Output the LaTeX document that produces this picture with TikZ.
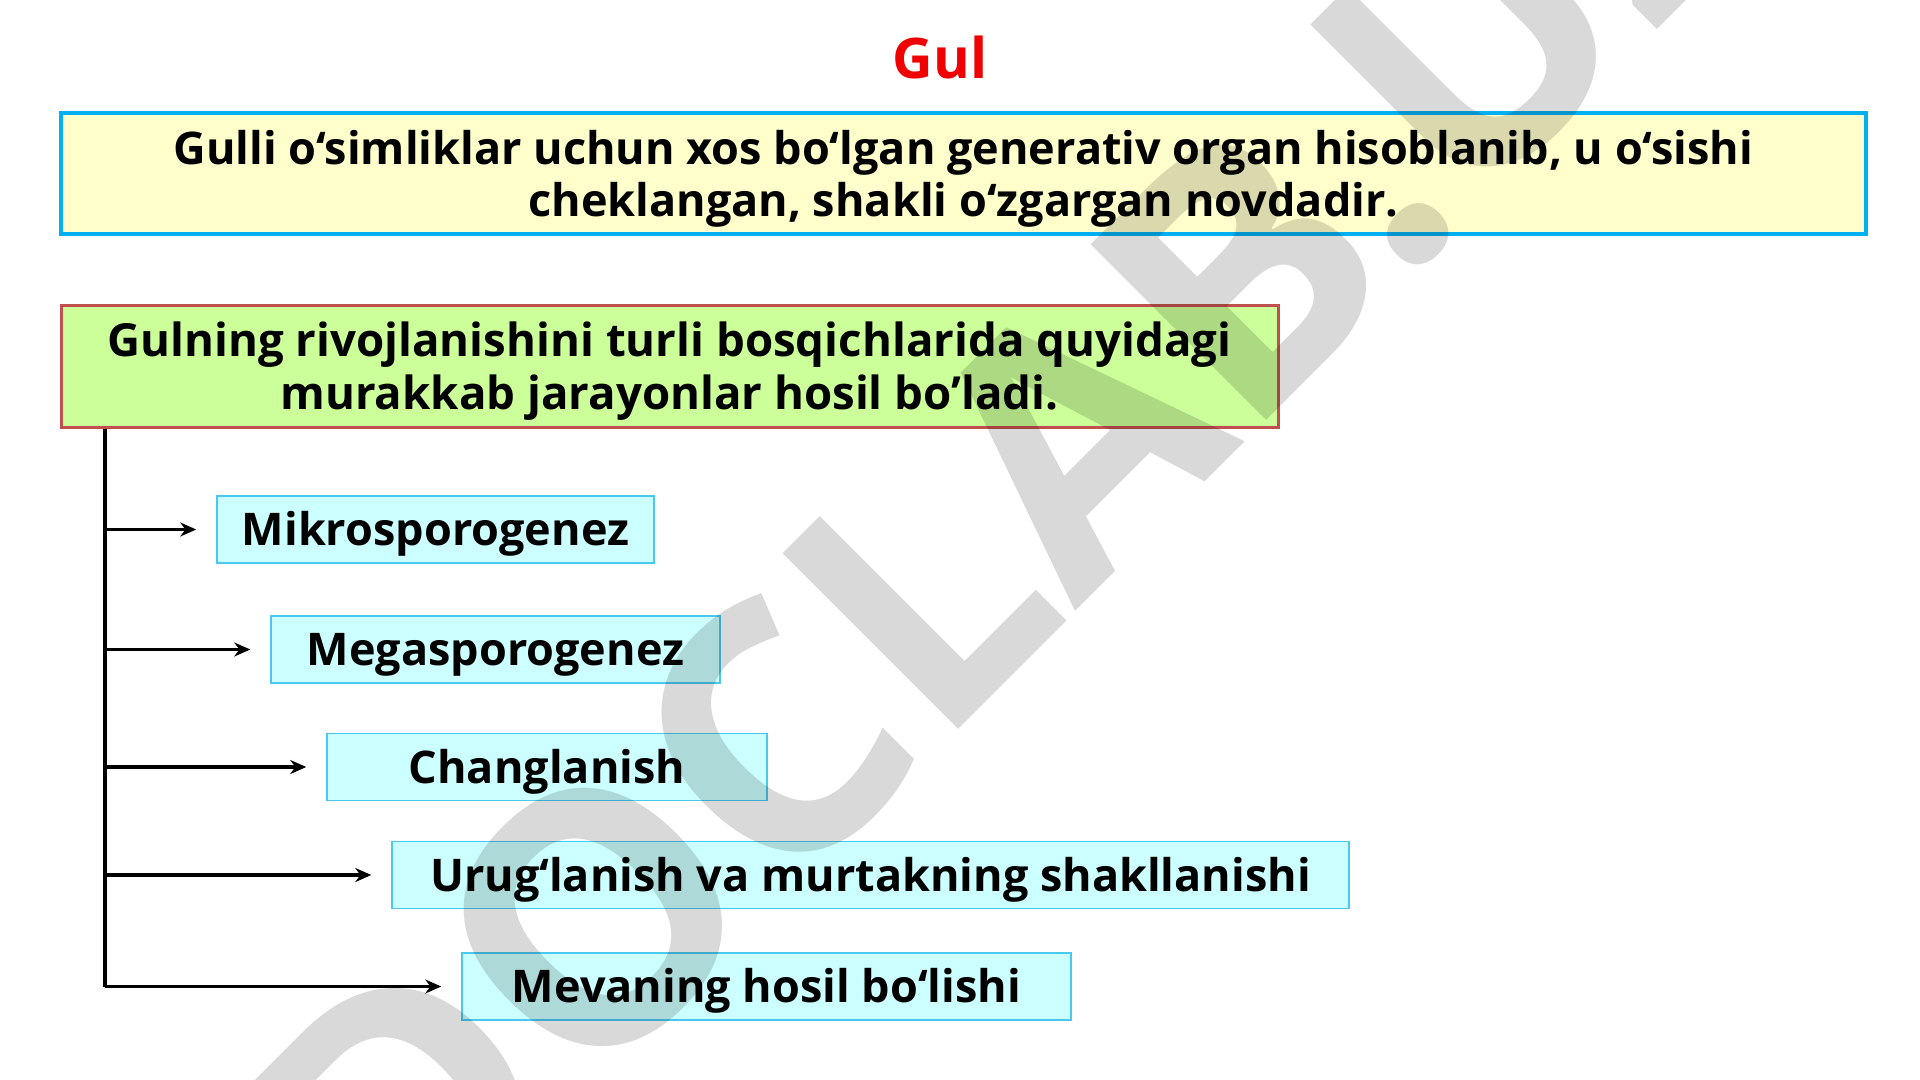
\documentclass[tikz,border=0pt]{standalone}
\usepackage{fontspec}
\IfFontExistsTF{Noto Sans Bold}
  {\setmainfont{Noto Sans}[BoldFont={Noto Sans Bold}]}
  {\setmainfont{Open Sans}[BoldFont={Open Sans Bold}]}
\usetikzlibrary{arrows.meta,calc}
\definecolor{cTitle}{HTML}{F00000}
\definecolor{cTopB}{HTML}{00B0F0}
\definecolor{cTopF}{HTML}{FFFFCC}
\definecolor{cGrB}{HTML}{C0504D}
\definecolor{cGrF}{HTML}{CCFF99}
\definecolor{cStB}{HTML}{4BC8F0}
\definecolor{cStF}{HTML}{CCFFFF}
\begin{document}
\begin{tikzpicture}[x=0.5pt,y=-0.5pt,
  topbox/.style={draw=cTopB, line width=2pt, fill=cTopF, minimum width=902.5pt, minimum height=60.5pt, inner sep=0pt},
  greenbox/.style={draw=cGrB, line width=1.5pt, fill=cGrF, minimum width=608.5pt, minimum height=60.5pt, inner sep=0pt},
  topline/.style={anchor=base, inner sep=0pt, font=\bfseries\fontsize{22.5pt}{26pt}\selectfont},
  greenline/.style={anchor=base, inner sep=0pt, font=\bfseries\fontsize{22.8pt}{26pt}\selectfont},
  stage/.style={draw=cStB, line width=0.75pt, fill=cStF, minimum height=33.5pt, inner sep=0pt, text height=16pt, text depth=0pt, font=\bfseries\fontsize{22.5pt}{26pt}\selectfont},
  arr/.style={line width=1.8pt, -{Stealth[length=8pt,width=7pt]}, shorten >=10pt},
  trunk/.style={line width=1.8pt},
  wm/.style={anchor=base west, text=black, text opacity=0.15, inner sep=0pt, font=\bfseries\fontsize{174pt}{174pt}\selectfont}
]
\useasboundingbox (0,0) rectangle (1920,1080);
\clip (0,0) rectangle (1920,1080);
\fill[white] (0,0) rectangle (1920,1080);

\node[text=cTitle, font=\bfseries\fontsize{28pt}{32pt}\selectfont] (title) at (940,58) {Gul};

\node[topbox] (def) at (963.5,173.5) {};
\node[topline] (def1) at (963.5,165) {Gulli o‘simliklar uchun xos bo‘lgan generativ organ hisoblanib, u o‘sishi};
\node[topline] (def2) at (963.5,217) {cheklangan, shakli o‘zgargan novdadir.};

\node[greenbox] (proc) at (669.5,366.5) {};
\node[greenline] (proc1) at (669.5,357) {Gulning rivojlanishini turli bosqichlarida quyidagi};
\node[greenline] (proc2) at (669.5,409) {murakkab jarayonlar hosil bo’ladi.};

\node[stage, minimum width=218.5pt] (s1) at (435.5,529.5) {Mikrosporogenez};
\node[stage, minimum width=224.5pt] (s2) at (495.5,649.5) {Megasporogenez};
\node[stage, minimum width=220pt] (s3) at (547,767) {Changlanish};
\node[stage, minimum width=478.5pt] (s4) at (870.5,875) {Urug‘lanish va murtakning shakllanishi};
\node[stage, minimum width=304.5pt] (s5) at (766.5,986.5) {Mevaning hosil bo‘lishi};

\coordinate (vtop) at ([xshift=22.75pt]proc.south west);
\coordinate (vbot) at (vtop |- s5.west);
\draw[trunk] (vtop) -- (vbot);
\foreach \s in {s1,s2,s3,s4,s5}
  \draw[arr] (vtop |- \s.west) -- (\s.west);

\node[wm, rotate=45] (wmark) at (401,1286) {DOCLAB.UZ};
\end{tikzpicture}
\end{document}
